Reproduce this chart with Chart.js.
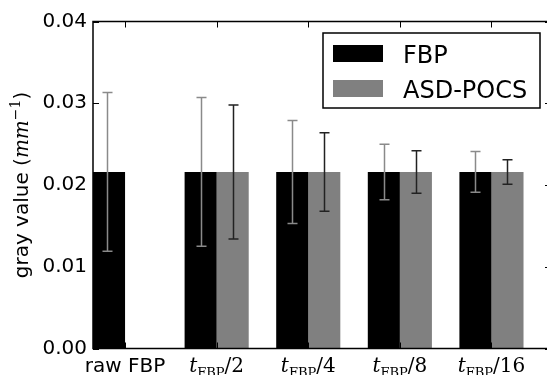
<!DOCTYPE html>
<html><head><meta charset="utf-8">
<script src="https://cdn.jsdelivr.net/npm/chart.js@4"></script>
<style>html,body{margin:0;padding:0;background:#fff;overflow:hidden}#wrap{width:556px;height:375px}</style>
</head><body><div id="wrap"><canvas id="c" width="556" height="375"></canvas></div>
<script>
const categories = ['raw FBP', 't_FBP/2', 't_FBP/4', 't_FBP/8', 't_FBP/16'];
const seriesNames = ['FBP', 'ASD-POCS'];
const fbpValues = [0.0216, 0.0216, 0.0216, 0.0216, 0.0216];
const fbpErrors = [0.0097, 0.0091, 0.0063, 0.0034, 0.0025];
const asdValues = [null, 0.0216, 0.0216, 0.0216, 0.0216];
const asdErrors = [null, 0.0082, 0.0048, 0.0026, 0.0015];
const yTicks = [0.00, 0.01, 0.02, 0.03, 0.04];
const yTitle = ['gray value (', 'mm', '\u22121', ')'];

function toPoints(vals) { return vals.map((v, i) => ({x: i, y: v})); }

const errorBars = {
  id: 'errorBars',
  afterDatasetsDraw(chart) {
    const ctx = chart.ctx, ys = chart.scales.y;
    chart.data.datasets.forEach((ds, i) => {
      const meta = chart.getDatasetMeta(i);
      ds.errors.forEach((e, j) => {
        const v = ds.data[j].y;
        if (e == null || v == null) return;
        const el = meta.data[j];
        const x = Math.round(el.x) + 0.5 - (j === 0 ? 2 : 0);
        const t = ys.getPixelForValue(v + e), b = ys.getPixelForValue(v - e);
        ctx.save();
        ctx.strokeStyle = ds.errorColor;
        ctx.lineWidth = 1.5;
        ctx.beginPath();
        ctx.moveTo(x, t); ctx.lineTo(x, b);
        ctx.moveTo(x - 5, t); ctx.lineTo(x + 5, t);
        ctx.moveTo(x - 5, b); ctx.lineTo(x + 5, b);
        ctx.stroke();
        ctx.restore();
      });
    });
  }
};

function drawXLabel(ctx, text, cx, baseY) {
  const m = /^t_(\w+)\/(\d+)$/.exec(text);
  ctx.textAlign = 'left';
  ctx.textBaseline = 'alphabetic';
  let parts;
  if (!m) {
    parts = [{t: text, font: '20px "DejaVu Sans"', dy: 0}];
  } else {
    parts = [
      {t: 't', font: 'italic 20px "DejaVu Serif"', dy: 0},
      {t: m[1], font: '13px "DejaVu Serif"', dy: 5},
      {t: '/' + m[2], font: '20px "DejaVu Serif"', dy: 0}
    ];
  }
  let total = 0;
  parts.forEach(p => { ctx.font = p.font; p.w = ctx.measureText(p.t).width; total += p.w; });
  let x = cx - total / 2;
  parts.forEach(p => { ctx.font = p.font; ctx.fillText(p.t, x, baseY + p.dy); x += p.w; });
}

const decorations = {
  id: 'decorations',
  afterDraw(chart) {
    const ctx = chart.ctx, a = chart.chartArea, xs = chart.scales.x, ys = chart.scales.y;
    ctx.save();
    ctx.strokeStyle = '#000';
    ctx.lineWidth = 1;
    ctx.beginPath();
    yTicks.forEach(v => {
      const y = Math.round(ys.getPixelForValue(v)) + 0.5;
      ctx.moveTo(a.left, y); ctx.lineTo(a.left + 6, y);
      ctx.moveTo(a.right, y); ctx.lineTo(a.right - 6, y);
    });
    categories.forEach((c, i) => {
      const x = Math.round(xs.getPixelForValue(i)) + 0.5;
      ctx.moveTo(x, a.top); ctx.lineTo(x, a.top + 6);
      ctx.moveTo(x, a.bottom); ctx.lineTo(x, a.bottom - 6);
    });
    ctx.stroke();
    ctx.lineWidth = 1.5;
    ctx.strokeRect(a.left, a.top, a.right - a.left, a.bottom - a.top);

    const lx = a.right - 228, ly = a.top + 11.5, lw = 217, lh = 75;
    ctx.fillStyle = '#fff';
    ctx.fillRect(lx, ly, lw, lh);
    ctx.lineWidth = 1.5;
    ctx.strokeStyle = '#000';
    ctx.strokeRect(lx, ly, lw, lh);
    chart.data.datasets.forEach((ds, i) => {
      const sy = ly + 12 + i * 35;
      ctx.fillStyle = ds.backgroundColor;
      ctx.fillRect(lx + 10, sy, 50, 17);
      ctx.fillStyle = '#000';
      ctx.font = '24px "DejaVu Sans"';
      ctx.textAlign = 'left';
      ctx.textBaseline = 'alphabetic';
      ctx.fillText(ds.label, lx + 80, sy + 17.5);
    });

    ctx.fillStyle = '#000';
    categories.forEach((c, i) => drawXLabel(ctx, c, xs.getPixelForValue(i), a.bottom + 23));

    const parts = [
      {t: yTitle[0], font: '20px "DejaVu Sans"', dy: 0},
      {t: yTitle[1], font: 'italic 20px "DejaVu Serif"', dy: 0},
      {t: yTitle[2], font: '14px "DejaVu Serif"', dy: -8},
      {t: yTitle[3], font: '20px "DejaVu Sans"', dy: 0}
    ];
    let total = 0;
    parts.forEach(p => { ctx.font = p.font; p.w = ctx.measureText(p.t).width; total += p.w; });
    ctx.translate(28, (a.top + a.bottom) / 2);
    ctx.rotate(-Math.PI / 2);
    let x = -total / 2;
    parts.forEach(p => { ctx.font = p.font; ctx.fillText(p.t, x, p.dy); x += p.w; });
    ctx.restore();
  }
};

new Chart(document.getElementById('c'), {
  type: 'bar',
  data: {
    datasets: [
      {label: seriesNames[0], data: toPoints(fbpValues), errors: fbpErrors,
       backgroundColor: '#000000', errorColor: '#8a8a8a', borderWidth: 0,
       categoryPercentage: 0.7, barPercentage: 1.0},
      {label: seriesNames[1], data: toPoints(asdValues), errors: asdErrors,
       backgroundColor: '#808080', errorColor: '#222222', borderWidth: 0,
       categoryPercentage: 0.7, barPercentage: 1.0}
    ]
  },
  options: {
    responsive: false,
    animation: false,
    layout: {padding: {top: 21.5, bottom: 26.5, left: 0, right: 5}},
    plugins: {legend: {display: false}, tooltip: {enabled: false}},
    scales: {
      x: {type: 'linear', offset: false, min: -0.35, max: 4.65, display: false,
          afterBuildTicks: s => { s.ticks = categories.map((c, i) => ({value: i})); }},
      y: {
        min: 0, max: 0.04,
        afterBuildTicks: s => { s.ticks = yTicks.map(v => ({value: v})); },
        afterFit: s => { s.width = 93; },
        grid: {display: false, drawTicks: false, tickLength: 0},
        border: {display: false},
        ticks: {padding: 6, color: '#000', font: {family: 'DejaVu Sans', size: 20},
                callback: v => Number(v).toFixed(2)}
      }
    }
  },
  plugins: [errorBars, decorations]
});
</script>
</body></html>
